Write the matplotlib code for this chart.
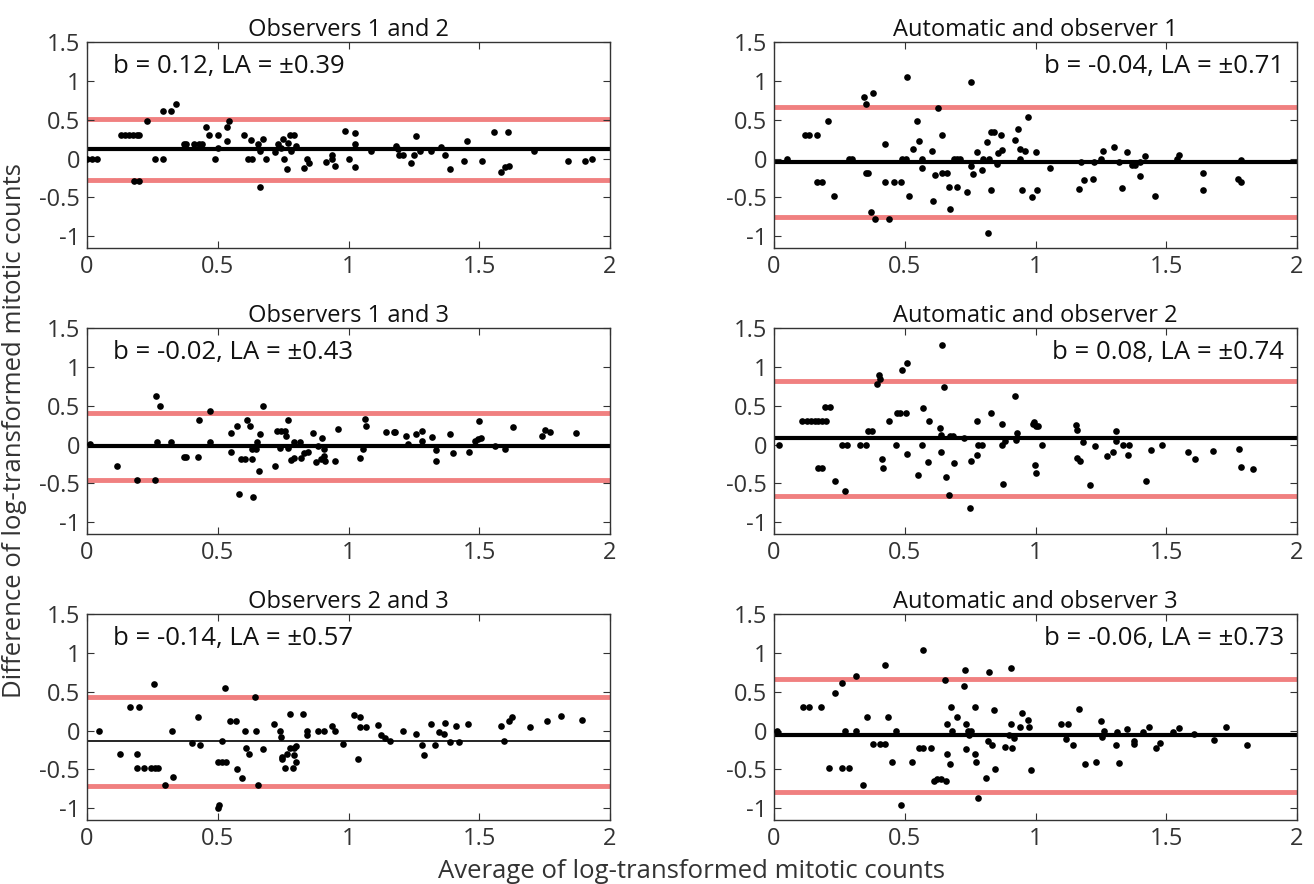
#!/usr/bin/env python3
"""Bland-Altman plots: agreement of log-transformed mitotic counts."""

import matplotlib
matplotlib.use("Agg")
import matplotlib.pyplot as plt

plt.rcParams['font.family'] = ['Open Sans', 'DejaVu Sans']

# --- data ------------------------------------------------------------------

titles = [
    'Observers 1 and 2', 'Automatic and observer 1',
    'Observers 1 and 3', 'Automatic and observer 2',
    'Observers 2 and 3', 'Automatic and observer 3',
]
bias = [0.12, -0.04, -0.02, 0.08, -0.14, -0.06]
limits = [0.39, 0.71, 0.43, 0.74, 0.57, 0.73]

obs12_avg = [0.00, 0.02, 0.04, 0.13, 0.145, 0.16, 0.175, 0.19, 0.20, 0.18, 0.20,
             0.23, 0.26, 0.29, 0.29, 0.32, 0.34, 0.37, 0.38, 0.41, 0.43, 0.44,
             0.455, 0.465, 0.49, 0.50, 0.50, 0.535, 0.543, 0.537, 0.60, 0.615,
             0.63, 0.627, 0.655, 0.66, 0.66, 0.674, 0.685, 0.72, 0.73, 0.74,
             0.75, 0.755, 0.765, 0.77, 0.775, 0.79, 0.78, 0.80, 0.83, 0.84,
             0.85, 0.915, 0.935, 0.935, 0.95, 0.985, 1.0, 1.025, 1.025, 1.025,
             1.085, 1.18, 1.19, 1.195, 1.21, 1.24, 1.25, 1.26, 1.275, 1.315,
             1.355, 1.37, 1.39, 1.44, 1.455, 1.51, 1.555, 1.585, 1.60, 1.615,
             1.61, 1.71, 1.84, 1.905, 1.93]
obs12_diff = [0.0, 0.0, 0.0, 0.31, 0.31, 0.31, 0.31, 0.31, 0.31, -0.29, -0.29,
              0.48, 0.0, 0.0, 0.61, 0.61, 0.70, 0.19, 0.19, 0.19, 0.19, 0.19,
              0.41, 0.31, 0.0, 0.31, 0.14, 0.41, 0.49, 0.23, 0.31, 0.0,
              0.0, 0.24, 0.19, 0.10, -0.36, 0.25, 0.0, 0.09, 0.19, 0.14,
              0.25, 0.0, -0.13, 0.20, 0.31, 0.31, 0.10, 0.16, -0.12, 0.0,
              -0.06, -0.05, 0.05, 0.0, -0.09, 0.36, 0.0, 0.33, 0.19, -0.11,
              0.10, 0.16, 0.12, 0.05, 0.05, -0.06, 0.05, 0.29, 0.10, 0.10,
              0.15, 0.04, -0.13, -0.03, 0.23, -0.03, 0.34, -0.17, -0.11, -0.09,
              0.34, 0.10, -0.03, -0.03, 0.0]

auto1_avg = [0.05, 0.12, 0.135, 0.165, 0.165, 0.185, 0.205, 0.23, 0.285, 0.30,
             0.346, 0.35, 0.378, 0.35, 0.36, 0.37, 0.386, 0.426, 0.426, 0.44,
             0.46, 0.485, 0.49, 0.505, 0.51, 0.518, 0.53, 0.545, 0.553, 0.565,
             0.566, 0.605, 0.608, 0.614, 0.628, 0.641, 0.644, 0.66, 0.67, 0.673,
             0.69, 0.70, 0.71, 0.70, 0.737, 0.753, 0.755, 0.76, 0.777, 0.796,
             0.80, 0.824, 0.816, 0.82, 0.83, 0.83, 0.84, 0.853, 0.856, 0.868,
             0.872, 0.923, 0.933, 0.94, 0.94, 0.95, 0.96, 0.97, 0.985, 1.0,
             1.005, 1.055, 1.166, 1.175, 1.185, 1.22, 1.225, 1.25, 1.26, 1.30,
             1.32, 1.33, 1.35, 1.37, 1.38, 1.40, 1.40, 1.42, 1.457, 1.54, 1.55,
             1.64, 1.64, 1.775, 1.785, 1.785]
auto1_diff = [0.0, 0.31, 0.31, 0.31, -0.30, -0.30, 0.48, -0.48, 0.0, 0.0,
              0.79, 0.70, 0.85, -0.18, -0.18, -0.69, -0.78, 0.19, -0.30, -0.78,
              -0.30, -0.30, 0.0, 0.0, 1.05, -0.48, 0.12, 0.49, 0.23, 0.0,
              -0.12, 0.10, -0.55, -0.21, 0.65, 0.31, -0.18, -0.18, -0.37, -0.65,
              0.0, 0.0, 0.0, -0.37, -0.43, 0.98, -0.09, -0.20, 0.08, -0.15,
              0.0, 0.0, 0.21, -0.96, -0.40, 0.34, 0.34, -0.07, 0.07, 0.31,
              0.11, 0.24, 0.38, 0.0, 0.12, -0.40, 0.10, 0.53, -0.50, 0.09,
              -0.41, -0.12, -0.39, -0.04, -0.28, -0.26, -0.04, 0.0, 0.10, 0.15,
              -0.04, -0.38, 0.08, -0.08, -0.08, -0.04, -0.22, 0.03, -0.48, 0.0, 0.05,
              -0.18, -0.40, -0.26, -0.30, -0.02]

obs13_avg = [0.01, 0.115, 0.19, 0.26, 0.265, 0.28, 0.267, 0.32, 0.37, 0.38,
             0.425, 0.427, 0.47, 0.47, 0.55, 0.55, 0.575, 0.58, 0.59, 0.605,
             0.61, 0.625, 0.63, 0.63, 0.645, 0.636, 0.65, 0.657, 0.66, 0.674,
             0.72, 0.727, 0.742, 0.758, 0.737, 0.76, 0.77, 0.77, 0.78, 0.79,
             0.79, 0.815, 0.818, 0.83, 0.845, 0.866, 0.874, 0.885, 0.893, 0.90,
             0.905, 0.908, 0.91, 0.95, 0.96, 1.045, 1.055, 1.065, 1.068, 1.142,
             1.173, 1.178, 1.22, 1.228, 1.26, 1.28, 1.28, 1.32, 1.335, 1.335,
             1.39, 1.40, 1.46, 1.485, 1.495, 1.50, 1.508, 1.56, 1.60, 1.63,
             1.74, 1.75, 1.77, 1.87]
obs13_diff = [0.01, -0.28, -0.45, -0.45, 0.62, 0.50, 0.03, 0.03, -0.16, -0.16,
              -0.16, 0.32, 0.43, 0.03, 0.15, -0.09, 0.24, -0.63, -0.19, -0.19,
              0.32, 0.24, -0.19, -0.06, -0.06, -0.67, 0.03, -0.34, 0.13, 0.50,
              -0.28, 0.17, 0.17, 0.17, -0.04, 0.11, 0.32, -0.04, -0.20, -0.17,
              0.03, 0.03, -0.17, -0.11, -0.09, 0.15, -0.22, -0.02, -0.19, 0.09,
              -0.06, -0.15, -0.21, -0.21, 0.20, -0.17, -0.06, 0.33, 0.24, 0.16,
              0.16, 0.16, 0.11, 0.01, 0.13, 0.18, 0.04, 0.10, -0.07, -0.21,
              0.13, -0.11, -0.09, 0.04, 0.07, 0.31, 0.09, -0.02, -0.06, 0.23,
              0.11, 0.19, 0.16, 0.15]

auto2_avg = [0.02, 0.107, 0.125, 0.14, 0.155, 0.17, 0.185, 0.20, 0.167, 0.183,
             0.195, 0.215, 0.235, 0.27, 0.26, 0.28, 0.327, 0.35, 0.36, 0.374,
             0.394, 0.40, 0.405, 0.413, 0.415, 0.44, 0.466, 0.47, 0.48, 0.49,
             0.507, 0.504, 0.51, 0.55, 0.568, 0.566, 0.59, 0.593, 0.636, 0.638,
             0.643, 0.65, 0.64, 0.657, 0.668, 0.673, 0.685, 0.69, 0.725, 0.75,
             0.753, 0.777, 0.777, 0.78, 0.794, 0.83, 0.87, 0.872, 0.877, 0.885,
             0.923, 0.925, 0.93, 0.99, 1.0, 0.994, 0.997, 1.0, 1.008, 1.025,
             1.155, 1.16, 1.16, 1.17, 1.18, 1.21, 1.226, 1.274, 1.295, 1.308,
             1.308, 1.335, 1.359, 1.354, 1.423, 1.443, 1.483, 1.585, 1.61, 1.678,
             1.778, 1.785, 1.83]
auto2_diff = [0.0, 0.31, 0.31, 0.31, 0.31, 0.31, 0.31, 0.31, -0.30, -0.30,
              0.48, 0.48, -0.47, -0.60, 0.0, 0.0, 0.0, 0.0, 0.18, 0.18,
              0.78, 0.90, 0.84, -0.18, -0.30, 0.30, 0.0, 0.41, 0.41, 0.96,
              1.05, 0.41, -0.12, -0.39, 0.47, 0.0, -0.22, 0.30, 0.22, -0.09,
              1.28, 0.74, 0.12, -0.42, -0.65, 0.11, 0.11, -0.24, 0.09, -0.81,
              -0.21, 0.31, -0.14, 0.0, 0.0, 0.41, 0.26, 0.0, -0.51, 0.04,
              0.63, 0.06, 0.15, 0.26, 0.24, 0.29, -0.26, -0.36, 0.24, 0.0,
              0.25, 0.19, -0.17, -0.21, 0.03, -0.52, -0.02, -0.15, -0.09, 0.18,
              0.04, 0.0, 0.0, -0.13, -0.47, -0.07, -0.01, -0.09, -0.18, -0.08,
              -0.06, -0.29, -0.31]

obs23_avg = [0.045, 0.125, 0.164, 0.20, 0.19, 0.19, 0.217, 0.245, 0.26, 0.273,
             0.257, 0.30, 0.326, 0.33, 0.40, 0.432, 0.424, 0.50, 0.505, 0.502,
             0.517, 0.516, 0.526, 0.533, 0.548, 0.57, 0.573, 0.593, 0.605, 0.608,
             0.62, 0.643, 0.647, 0.653, 0.672, 0.716, 0.738, 0.74, 0.745, 0.745,
             0.757, 0.765, 0.775, 0.778, 0.79, 0.787, 0.79, 0.80, 0.80, 0.825,
             0.84, 0.84, 0.885, 0.908, 0.935, 0.947, 0.978, 1.022, 1.043, 1.037,
             1.045, 1.068, 1.114, 1.126, 1.14, 1.16, 1.21, 1.26, 1.28, 1.29,
             1.317, 1.33, 1.345, 1.364, 1.368, 1.387, 1.412, 1.423, 1.457, 1.583,
             1.594, 1.613, 1.625, 1.693, 1.76, 1.813, 1.894]
obs23_diff = [0.0, -0.30, 0.30, 0.30, -0.30, -0.48, -0.48, -0.48, -0.48, -0.48,
              0.60, -0.70, 0.0, -0.60, -0.16, -0.18, 0.17, -0.99, -0.96, -0.40,
              -0.40, -0.13, 0.55, -0.40, 0.12, 0.12, -0.49, -0.61, 0.0, -0.22,
              -0.30, 0.43, 0.0, -0.70, -0.24, 0.08, 0.0, -0.08, -0.34, -0.37,
              -0.48, -0.30, 0.21, -0.23, -0.22, -0.48, -0.31, -0.40, -0.20, 0.21,
              0.0, -0.06, 0.0, 0.0, 0.06, 0.0, -0.17, 0.20, 0.17, -0.37,
              0.04, 0.04, 0.07, -0.06, -0.09, -0.13, 0.0, -0.05, -0.19, -0.31,
              0.09, -0.19, -0.02, -0.04, 0.10, -0.15, 0.06, -0.15, 0.09, 0.06,
              -0.14, 0.12, 0.17, 0.04, 0.12, 0.19, 0.14]

auto3_avg = [0.01, 0.015, 0.11, 0.134, 0.179, 0.21, 0.235, 0.26, 0.26, 0.287,
             0.27, 0.314, 0.314, 0.34, 0.357, 0.378, 0.407, 0.424, 0.426, 0.435,
             0.453, 0.466, 0.485, 0.526, 0.553, 0.569, 0.60, 0.569, 0.61, 0.625,
             0.64, 0.657, 0.654, 0.66, 0.66, 0.673, 0.676, 0.68, 0.70, 0.728,
             0.732, 0.733, 0.735, 0.74, 0.745, 0.755, 0.77, 0.77, 0.773, 0.78,
             0.812, 0.817, 0.824, 0.833, 0.84, 0.844, 0.884, 0.90, 0.91, 0.905,
             0.907, 0.917, 0.94, 0.95, 0.97, 0.976, 0.984, 1.096, 1.124, 1.115,
             1.144, 1.167, 1.19, 1.23, 1.252, 1.255, 1.263, 1.308, 1.31, 1.32,
             1.348, 1.375, 1.378, 1.41, 1.435, 1.462, 1.478, 1.526, 1.55, 1.605,
             1.682, 1.73, 1.81]
auto3_diff = [0.0, -0.03, 0.31, 0.31, 0.31, -0.48, 0.48, 0.61, -0.48, -0.48,
              0.0, 0.70, 0.0, -0.70, 0.18, -0.17, -0.17, -0.17, 0.85, 0.18,
              -0.40, 0.0, -0.96, -0.40, -0.22, -0.22, -0.22, 1.04, -0.65, -0.62,
              -0.62, -0.65, 0.65, 0.09, -0.30, -0.43, 0.31, 0.0, 0.18, 0.57,
              0.78, -0.24, 0.08, 0.0, -0.06, 0.0, 0.31, -0.30, -0.40, -0.87,
              -0.61, -0.14, 0.75, -0.18, 0.26, -0.49, -0.21, -0.06, -0.23, 0.80,
              0.09, -0.10, 0.05, 0.23, 0.14, 0.05, -0.51, 0.09, 0.09, -0.11,
              -0.18, 0.28, -0.43, -0.41, 0.12, -0.08, 0.0, -0.19, -0.02, -0.42,
              0.02, -0.14, -0.17, -0.02, 0.05, -0.22, -0.16, -0.02, 0.03, -0.04,
              -0.12, 0.05, -0.18]

panel_avg = [obs12_avg, auto1_avg, obs13_avg, auto2_avg, obs23_avg, auto3_avg]
panel_diff = [obs12_diff, auto1_diff, obs13_diff, auto2_diff, obs23_diff, auto3_diff]

# --- layout ---------------------------------------------------------------

W, H = 1314, 884
fig = plt.figure(figsize=(W / 100, H / 100), dpi=100)

col_left = [87, 774]
row_top = [42, 328, 614]
ax_w, ax_h = 523, 206

for i in range(6):
    r, c = divmod(i, 2)
    ax = fig.add_axes([col_left[c] / W, 1 - (row_top[r] + ax_h) / H, ax_w / W, ax_h / H])

    b, la = bias[i], limits[i]
    mean_lw = 1.2 if i == 4 else 3
    ax.axhline(b + la, color='#f08080', linewidth=3.5, zorder=1)
    ax.axhline(b - la, color='#f08080', linewidth=3.5, zorder=1)
    ax.axhline(b, color='black', linewidth=mean_lw, zorder=2)
    ax.plot(panel_avg[i], panel_diff[i], 'o', color='black', markersize=4.8,
            markeredgewidth=0, zorder=3)

    ax.set_xlim(0, 2)
    ax.set_ylim(-1.15, 1.5)
    ax.set_xticks([0, 0.5, 1, 1.5, 2])
    ax.set_xticklabels(['0', '0.5', '1', '1.5', '2'])
    ax.set_yticks([-1, -0.5, 0, 0.5, 1, 1.5])
    ax.set_yticklabels(['-1', '-0.5', '0', '0.5', '1', '1.5'])
    ax.tick_params(direction='in', top=True, right=True, length=5, width=0.8,
                   labelsize=17, colors='#333333', pad=5)
    for s in ax.spines.values():
        s.set_color('#333333')
        s.set_linewidth(1.0)

    ax.set_title(titles[i], fontsize=17, color='#111111', pad=4)

    label = f'b = {b:.2f}, LA = \u00b1{la:.2f}'
    if c == 0:
        ax.text(0.05, 0.88, label, transform=ax.transAxes, fontsize=18.5,
                ha='left', va='center', color='#111111')
    else:
        ax.text(0.975, 0.88, label, transform=ax.transAxes, fontsize=18.5,
                ha='right', va='center', color='#111111')

fig.text(692 / W, 1 - 871 / H, 'Average of log-transformed mitotic counts',
         ha='center', va='center', fontsize=18.5, color='#333333')
fig.text(15 / W, 1 - 431 / H, 'Difference of log-transformed mitotic counts',
         ha='center', va='center', rotation=90, fontsize=18.5, color='#333333')

fig.savefig('out.png', dpi=100)
